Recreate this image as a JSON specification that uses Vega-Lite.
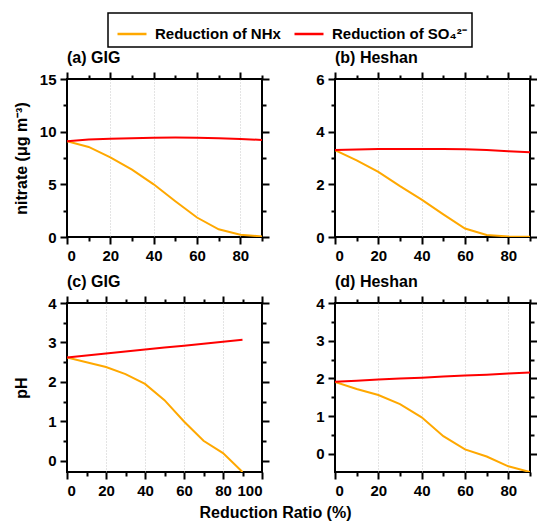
{
  "$schema": "https://vega.github.io/schema/vega-lite/v6.json",
  "padding": {"top": 12, "left": 12, "right": 0, "bottom": 5},
  "background": "white",
  "datasets": {
    "a": [
      {"ratio": 0, "value": 9.1, "scenario": "Reduction of NHx"},
      {"ratio": 10, "value": 8.55, "scenario": "Reduction of NHx"},
      {"ratio": 20, "value": 7.57, "scenario": "Reduction of NHx"},
      {"ratio": 30, "value": 6.4, "scenario": "Reduction of NHx"},
      {"ratio": 40, "value": 5.0, "scenario": "Reduction of NHx"},
      {"ratio": 50, "value": 3.4, "scenario": "Reduction of NHx"},
      {"ratio": 60, "value": 1.85, "scenario": "Reduction of NHx"},
      {"ratio": 70, "value": 0.73, "scenario": "Reduction of NHx"},
      {"ratio": 80, "value": 0.22, "scenario": "Reduction of NHx"},
      {"ratio": 90, "value": 0.05, "scenario": "Reduction of NHx"},
      {"ratio": 0, "value": 9.1, "scenario": "Reduction of SO₄²⁻"},
      {"ratio": 10, "value": 9.25, "scenario": "Reduction of SO₄²⁻"},
      {"ratio": 20, "value": 9.32, "scenario": "Reduction of SO₄²⁻"},
      {"ratio": 30, "value": 9.38, "scenario": "Reduction of SO₄²⁻"},
      {"ratio": 40, "value": 9.42, "scenario": "Reduction of SO₄²⁻"},
      {"ratio": 50, "value": 9.44, "scenario": "Reduction of SO₄²⁻"},
      {"ratio": 60, "value": 9.43, "scenario": "Reduction of SO₄²⁻"},
      {"ratio": 70, "value": 9.38, "scenario": "Reduction of SO₄²⁻"},
      {"ratio": 80, "value": 9.3, "scenario": "Reduction of SO₄²⁻"},
      {"ratio": 90, "value": 9.22, "scenario": "Reduction of SO₄²⁻"}
    ],
    "b": [
      {"ratio": 0, "value": 3.3, "scenario": "Reduction of NHx"},
      {"ratio": 10, "value": 2.91, "scenario": "Reduction of NHx"},
      {"ratio": 20, "value": 2.47, "scenario": "Reduction of NHx"},
      {"ratio": 30, "value": 1.93, "scenario": "Reduction of NHx"},
      {"ratio": 40, "value": 1.42, "scenario": "Reduction of NHx"},
      {"ratio": 50, "value": 0.86, "scenario": "Reduction of NHx"},
      {"ratio": 60, "value": 0.32, "scenario": "Reduction of NHx"},
      {"ratio": 70, "value": 0.08, "scenario": "Reduction of NHx"},
      {"ratio": 80, "value": 0.02, "scenario": "Reduction of NHx"},
      {"ratio": 90, "value": 0.01, "scenario": "Reduction of NHx"},
      {"ratio": 0, "value": 3.3, "scenario": "Reduction of SO₄²⁻"},
      {"ratio": 10, "value": 3.32, "scenario": "Reduction of SO₄²⁻"},
      {"ratio": 20, "value": 3.34, "scenario": "Reduction of SO₄²⁻"},
      {"ratio": 30, "value": 3.34, "scenario": "Reduction of SO₄²⁻"},
      {"ratio": 40, "value": 3.34, "scenario": "Reduction of SO₄²⁻"},
      {"ratio": 50, "value": 3.34, "scenario": "Reduction of SO₄²⁻"},
      {"ratio": 60, "value": 3.33, "scenario": "Reduction of SO₄²⁻"},
      {"ratio": 70, "value": 3.3, "scenario": "Reduction of SO₄²⁻"},
      {"ratio": 80, "value": 3.26, "scenario": "Reduction of SO₄²⁻"},
      {"ratio": 90, "value": 3.22, "scenario": "Reduction of SO₄²⁻"}
    ],
    "c": [
      {"ratio": 0, "value": 2.62, "scenario": "Reduction of NHx"},
      {"ratio": 10, "value": 2.5, "scenario": "Reduction of NHx"},
      {"ratio": 20, "value": 2.38, "scenario": "Reduction of NHx"},
      {"ratio": 30, "value": 2.2, "scenario": "Reduction of NHx"},
      {"ratio": 40, "value": 1.95, "scenario": "Reduction of NHx"},
      {"ratio": 50, "value": 1.54, "scenario": "Reduction of NHx"},
      {"ratio": 60, "value": 1.0, "scenario": "Reduction of NHx"},
      {"ratio": 70, "value": 0.51, "scenario": "Reduction of NHx"},
      {"ratio": 80, "value": 0.2, "scenario": "Reduction of NHx"},
      {"ratio": 90, "value": -0.28, "scenario": "Reduction of NHx"},
      {"ratio": 0, "value": 2.62, "scenario": "Reduction of SO₄²⁻"},
      {"ratio": 10, "value": 2.67, "scenario": "Reduction of SO₄²⁻"},
      {"ratio": 20, "value": 2.72, "scenario": "Reduction of SO₄²⁻"},
      {"ratio": 30, "value": 2.77, "scenario": "Reduction of SO₄²⁻"},
      {"ratio": 40, "value": 2.82, "scenario": "Reduction of SO₄²⁻"},
      {"ratio": 50, "value": 2.87, "scenario": "Reduction of SO₄²⁻"},
      {"ratio": 60, "value": 2.92, "scenario": "Reduction of SO₄²⁻"},
      {"ratio": 70, "value": 2.97, "scenario": "Reduction of SO₄²⁻"},
      {"ratio": 80, "value": 3.02, "scenario": "Reduction of SO₄²⁻"},
      {"ratio": 90, "value": 3.07, "scenario": "Reduction of SO₄²⁻"}
    ],
    "d": [
      {"ratio": 0, "value": 1.91, "scenario": "Reduction of NHx"},
      {"ratio": 10, "value": 1.72, "scenario": "Reduction of NHx"},
      {"ratio": 20, "value": 1.56, "scenario": "Reduction of NHx"},
      {"ratio": 30, "value": 1.32, "scenario": "Reduction of NHx"},
      {"ratio": 40, "value": 0.97, "scenario": "Reduction of NHx"},
      {"ratio": 50, "value": 0.47, "scenario": "Reduction of NHx"},
      {"ratio": 60, "value": 0.12, "scenario": "Reduction of NHx"},
      {"ratio": 70, "value": -0.07, "scenario": "Reduction of NHx"},
      {"ratio": 80, "value": -0.33, "scenario": "Reduction of NHx"},
      {"ratio": 90, "value": -0.48, "scenario": "Reduction of NHx"},
      {"ratio": 0, "value": 1.91, "scenario": "Reduction of SO₄²⁻"},
      {"ratio": 10, "value": 1.94, "scenario": "Reduction of SO₄²⁻"},
      {"ratio": 20, "value": 1.97, "scenario": "Reduction of SO₄²⁻"},
      {"ratio": 30, "value": 2.0, "scenario": "Reduction of SO₄²⁻"},
      {"ratio": 40, "value": 2.02, "scenario": "Reduction of SO₄²⁻"},
      {"ratio": 50, "value": 2.05, "scenario": "Reduction of SO₄²⁻"},
      {"ratio": 60, "value": 2.08, "scenario": "Reduction of SO₄²⁻"},
      {"ratio": 70, "value": 2.1, "scenario": "Reduction of SO₄²⁻"},
      {"ratio": 80, "value": 2.13, "scenario": "Reduction of SO₄²⁻"},
      {"ratio": 90, "value": 2.16, "scenario": "Reduction of SO₄²⁻"}
    ]
  },
  "title": {"text": "Reduction Ratio (%)", "orient": "bottom", "anchor": "middle", "font": "Liberation Sans", "fontSize": 16, "fontWeight": "bold", "color": "black", "offset": 6},
  "columns": 2,
  "spacing": {"row": 9, "column": 43},
  "concat": [
    {
      "width": 195, "height": 158,
      "title": {"text": "(a) GIG", "anchor": "start", "frame": "group", "font": "Liberation Sans", "fontSize": 16, "fontWeight": "bold", "offset": 5},
      "data": {"name": "a"},
      "layer": [
        {
          "mark": {"type": "line", "strokeWidth": 2, "clip": true},
          "encoding": {
            "x": {"field": "ratio", "type": "quantitative", "scale": {"domain": [0, 90], "nice": false},
              "axis": {"orient": "bottom", "title": null, "values": [0, 10, 20, 30, 40, 50, 60, 70, 80, 90], "labelExpr": "datum.value % 20 === 0 ? format(datum.value, 'd') : ''", "tickSize": {"condition": {"test": "datum.value % 20 !== 0", "value": 4}, "value": 7}, "grid": true, "gridColor": "#c8c8c8", "gridDash": [1, 2], "gridWidth": 1, "gridOpacity": {"condition": {"test": "datum.value % 20 !== 0 || datum.value === 0", "value": 0}, "value": 1}}},
            "y": {"field": "value", "type": "quantitative", "scale": {"domain": [0, 15], "nice": false},
              "axis": {"orient": "left", "title": "nitrate (μg m⁻³)", "values": [0, 2.5, 5, 7.5, 10, 12.5, 15], "labelExpr": "datum.value % 5 === 0 ? format(datum.value, 'd') : ''", "tickSize": {"condition": {"test": "datum.value % 5 !== 0", "value": 4}, "value": 7}, "minExtent": 34, "maxExtent": 34}},
            "color": {"field": "scenario", "type": "nominal", "scale": {"domain": ["Reduction of NHx", "Reduction of SO₄²⁻"], "range": ["#FFA800", "#FF0000"]}, "legend": {"orient": "none", "legendX": 41, "legendY": -66, "direction": "horizontal", "title": null}}
          }
        },
        {
          "mark": {"type": "line", "opacity": 0},
          "encoding": {
            "x": {"field": "ratio", "type": "quantitative", "axis": {"orient": "top", "title": null, "labels": false, "values": [0, 10, 20, 30, 40, 50, 60, 70, 80, 90], "tickSize": {"condition": {"test": "datum.value % 20 !== 0", "value": 4}, "value": 7}}},
            "y": {"field": "value", "type": "quantitative", "axis": {"orient": "right", "title": null, "labels": false, "values": [0, 2.5, 5, 7.5, 10, 12.5, 15], "tickSize": {"condition": {"test": "datum.value % 5 !== 0", "value": 4}, "value": 7}}}
          }
        }
      ]
    },
    {
      "width": 195, "height": 158,
      "title": {"text": "(b) Heshan", "anchor": "start", "frame": "group", "font": "Liberation Sans", "fontSize": 16, "fontWeight": "bold", "offset": 5},
      "data": {"name": "b"},
      "layer": [
        {
          "mark": {"type": "line", "strokeWidth": 2, "clip": true},
          "encoding": {
            "x": {"field": "ratio", "type": "quantitative", "scale": {"domain": [0, 90], "nice": false},
              "axis": {"orient": "bottom", "title": null, "values": [0, 10, 20, 30, 40, 50, 60, 70, 80, 90], "labelExpr": "datum.value % 20 === 0 ? format(datum.value, 'd') : ''", "tickSize": {"condition": {"test": "datum.value % 20 !== 0", "value": 4}, "value": 7}, "grid": true, "gridColor": "#c8c8c8", "gridDash": [1, 2], "gridWidth": 1, "gridOpacity": {"condition": {"test": "datum.value % 20 !== 0 || datum.value === 0", "value": 0}, "value": 1}}},
            "y": {"field": "value", "type": "quantitative", "scale": {"domain": [0, 6], "nice": false},
              "axis": {"orient": "left", "title": null, "values": [0, 1, 2, 3, 4, 5, 6], "labelExpr": "datum.value % 2 === 0 ? format(datum.value, 'd') : ''", "tickSize": {"condition": {"test": "datum.value % 2 !== 0", "value": 4}, "value": 7}}},
            "color": {"field": "scenario", "type": "nominal"}
          }
        },
        {
          "mark": {"type": "line", "opacity": 0},
          "encoding": {
            "x": {"field": "ratio", "type": "quantitative", "axis": {"orient": "top", "title": null, "labels": false, "values": [0, 10, 20, 30, 40, 50, 60, 70, 80, 90], "tickSize": {"condition": {"test": "datum.value % 20 !== 0", "value": 4}, "value": 7}}},
            "y": {"field": "value", "type": "quantitative", "axis": {"orient": "right", "title": null, "labels": false, "values": [0, 1, 2, 3, 4, 5, 6], "tickSize": {"condition": {"test": "datum.value % 2 !== 0", "value": 4}, "value": 7}}}
          }
        }
      ]
    },
    {
      "width": 195, "height": 169,
      "title": {"text": "(c) GIG", "anchor": "start", "frame": "group", "font": "Liberation Sans", "fontSize": 16, "fontWeight": "bold", "offset": 5},
      "data": {"name": "c"},
      "layer": [
        {
          "mark": {"type": "line", "strokeWidth": 2, "clip": true},
          "encoding": {
            "x": {"field": "ratio", "type": "quantitative", "scale": {"domain": [0, 100], "nice": false},
              "axis": {"orient": "bottom", "title": null, "values": [0, 10, 20, 30, 40, 50, 60, 70, 80, 90, 100], "labelExpr": "datum.value % 20 === 0 ? format(datum.value, 'd') : ''", "tickSize": {"condition": {"test": "datum.value % 20 !== 0", "value": 4}, "value": 7}, "grid": true, "gridColor": "#c8c8c8", "gridDash": [1, 2], "gridWidth": 1, "gridOpacity": {"condition": {"test": "datum.value % 20 !== 0 || datum.value === 0 || datum.value === 100", "value": 0}, "value": 1}}},
            "y": {"field": "value", "type": "quantitative", "scale": {"domain": [-0.28, 4], "nice": false},
              "axis": {"orient": "left", "title": "pH", "values": [0, 0.5, 1, 1.5, 2, 2.5, 3, 3.5, 4], "labelExpr": "datum.value % 1 === 0 ? format(datum.value, 'd') : ''", "tickSize": {"condition": {"test": "datum.value % 1 !== 0", "value": 4}, "value": 7}, "minExtent": 34, "maxExtent": 34}},
            "color": {"field": "scenario", "type": "nominal"}
          }
        },
        {
          "mark": {"type": "line", "opacity": 0},
          "encoding": {
            "x": {"field": "ratio", "type": "quantitative", "axis": {"orient": "top", "title": null, "labels": false, "values": [0, 10, 20, 30, 40, 50, 60, 70, 80, 90, 100], "tickSize": {"condition": {"test": "datum.value % 20 !== 0", "value": 4}, "value": 7}}},
            "y": {"field": "value", "type": "quantitative", "axis": {"orient": "right", "title": null, "labels": false, "values": [0, 0.5, 1, 1.5, 2, 2.5, 3, 3.5, 4], "tickSize": {"condition": {"test": "datum.value % 1 !== 0", "value": 4}, "value": 7}}}
          }
        }
      ]
    },
    {
      "width": 195, "height": 169,
      "title": {"text": "(d) Heshan", "anchor": "start", "frame": "group", "font": "Liberation Sans", "fontSize": 16, "fontWeight": "bold", "offset": 5},
      "data": {"name": "d"},
      "layer": [
        {
          "mark": {"type": "line", "strokeWidth": 2, "clip": true},
          "encoding": {
            "x": {"field": "ratio", "type": "quantitative", "scale": {"domain": [0, 90], "nice": false},
              "axis": {"orient": "bottom", "title": null, "values": [0, 10, 20, 30, 40, 50, 60, 70, 80, 90], "labelExpr": "datum.value % 20 === 0 ? format(datum.value, 'd') : ''", "tickSize": {"condition": {"test": "datum.value % 20 !== 0", "value": 4}, "value": 7}, "grid": true, "gridColor": "#c8c8c8", "gridDash": [1, 2], "gridWidth": 1, "gridOpacity": {"condition": {"test": "datum.value % 20 !== 0 || datum.value === 0", "value": 0}, "value": 1}}},
            "y": {"field": "value", "type": "quantitative", "scale": {"domain": [-0.48, 4], "nice": false},
              "axis": {"orient": "left", "title": null, "values": [0, 0.5, 1, 1.5, 2, 2.5, 3, 3.5, 4], "labelExpr": "datum.value % 1 === 0 ? format(datum.value, 'd') : ''", "tickSize": {"condition": {"test": "datum.value % 1 !== 0", "value": 4}, "value": 7}}},
            "color": {"field": "scenario", "type": "nominal"}
          }
        },
        {
          "mark": {"type": "line", "opacity": 0},
          "encoding": {
            "x": {"field": "ratio", "type": "quantitative", "axis": {"orient": "top", "title": null, "labels": false, "values": [0, 10, 20, 30, 40, 50, 60, 70, 80, 90], "tickSize": {"condition": {"test": "datum.value % 20 !== 0", "value": 4}, "value": 7}}},
            "y": {"field": "value", "type": "quantitative", "axis": {"orient": "right", "title": null, "labels": false, "values": [0, 0.5, 1, 1.5, 2, 2.5, 3, 3.5, 4], "tickSize": {"condition": {"test": "datum.value % 1 !== 0", "value": 4}, "value": 7}}}
          }
        }
      ]
    }
  ],
  "config": {
    "font": "Liberation Sans",
    "view": {"stroke": "black", "strokeWidth": 2},
    "axis": {"labelFont": "Liberation Sans", "labelFontSize": 15, "labelFontWeight": "bold", "labelColor": "black", "titleFont": "Liberation Sans", "titleFontSize": 16, "titleFontWeight": "bold", "titleColor": "black", "tickColor": "black", "tickWidth": 2, "domain": false, "grid": false, "labelPadding": 4, "titlePadding": 4},
    "legend": {"labelFont": "Liberation Sans", "labelFontSize": 15, "labelFontWeight": "bold", "labelColor": "black", "symbolType": "stroke", "symbolStrokeWidth": 2.5, "symbolSize": 841, "symbolOffset": 3, "labelOffset": 7, "columnPadding": 8, "padding": 5, "strokeColor": "black", "strokeWidth": 1.5, "labelLimit": 300},
    "title": {"color": "black"}
  }
}
